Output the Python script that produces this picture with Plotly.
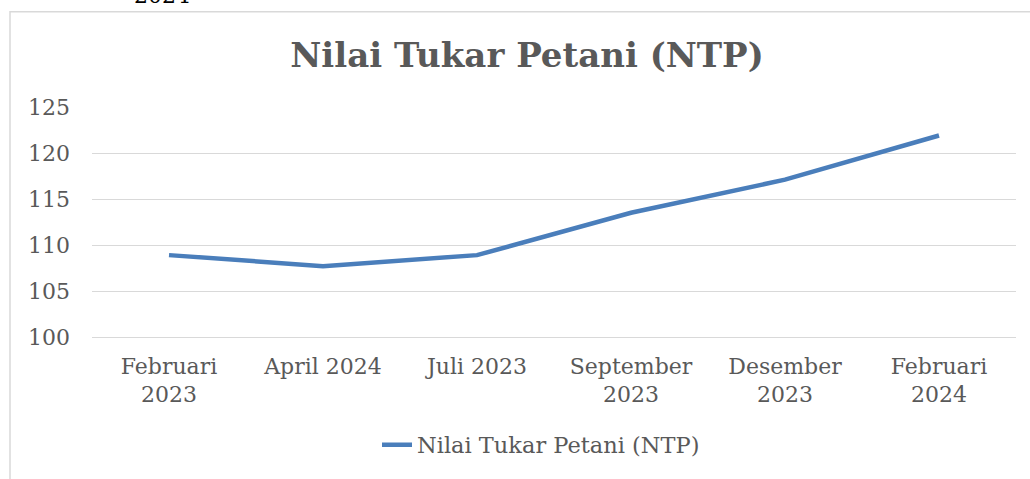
import plotly.graph_objects as go

categories = ["Februari<br>2023", "April 2024", "Juli 2023", "September<br>2023", "Desember<br>2023", "Februari<br>2024"]
ntp_values = [108.9, 107.7, 108.9, 113.5, 117.1, 121.9]
series_name = "Nilai Tukar Petani (NTP)"
y_ticks = [100, 105, 110, 115, 120, 125]

W, H = 1030, 479
L, R, T, B = 92, 14, 107, 140
pw, ph = W - L - R, H - T - B

def px_x(p):
    return (p - L) / pw

def px_y(p):
    return (H - B - p) / ph

text_color = "#595959"
grid_color = "#d9d9d9"
serif = "DejaVu Serif"

fig = go.Figure()
fig.add_trace(go.Scatter(
    x=categories, y=ntp_values, mode="lines", name=series_name,
    line=dict(color="#4a7ebb", width=4.5),
))

fig.update_layout(
    width=W, height=H, autosize=False,
    margin=dict(l=L, r=R, t=T, b=B),
    paper_bgcolor="white", plot_bgcolor="white",
    title=dict(text="<b>Nilai Tukar Petani (NTP)</b>", x=527 / W, xanchor="center",
               y=1 - 55 / H, yanchor="middle", yref="container",
               font=dict(family=serif, size=34, color=text_color)),
    xaxis=dict(type="category", range=[-0.5, 5.5], showgrid=False, zeroline=False,
               showline=True, linecolor=grid_color, linewidth=1.3,
               ticks="", tickfont=dict(family=serif, size=22, color=text_color),
               ticklabelstandoff=9),
    yaxis=dict(range=[100, 125], tickvals=y_ticks, showgrid=True, gridcolor=grid_color,
               gridwidth=1.3, zeroline=False, showline=False, ticks="",
               tickfont=dict(family=serif, size=22, color=text_color),
               ticklabelstandoff=21),
    showlegend=True,
    legend=dict(orientation="h", x=px_x(541), xanchor="center", y=px_y(448), yanchor="middle",
                font=dict(family=serif, size=22.5, color=text_color), bgcolor="rgba(0,0,0,0)"),
    shapes=[dict(type="rect", xref="paper", yref="paper",
                 x0=px_x(10), x1=px_x(1040), y0=px_y(490), y1=px_y(11),
                 line=dict(color=grid_color, width=1.5), fillcolor="rgba(0,0,0,0)", layer="below")],
    annotations=[dict(text="2024", xref="paper", yref="paper", x=px_x(162), y=px_y(9),
                      xanchor="center", yanchor="bottom", showarrow=False,
                      font=dict(family=serif, size=22, color="black"))],
)

post = """
document.body.style.margin='0';
document.body.style.padding='0';
document.body.style.overflow='hidden';
document.documentElement.style.overflow='hidden';
var gd = document.getElementById('{plot_id}');
if (window.Plotly && gd) { Plotly.relayout(gd, {width: %d, height: %d}); }
""" % (W, H)

fig.write_html("out.html", post_script=post, config={"displayModeBar": False})
